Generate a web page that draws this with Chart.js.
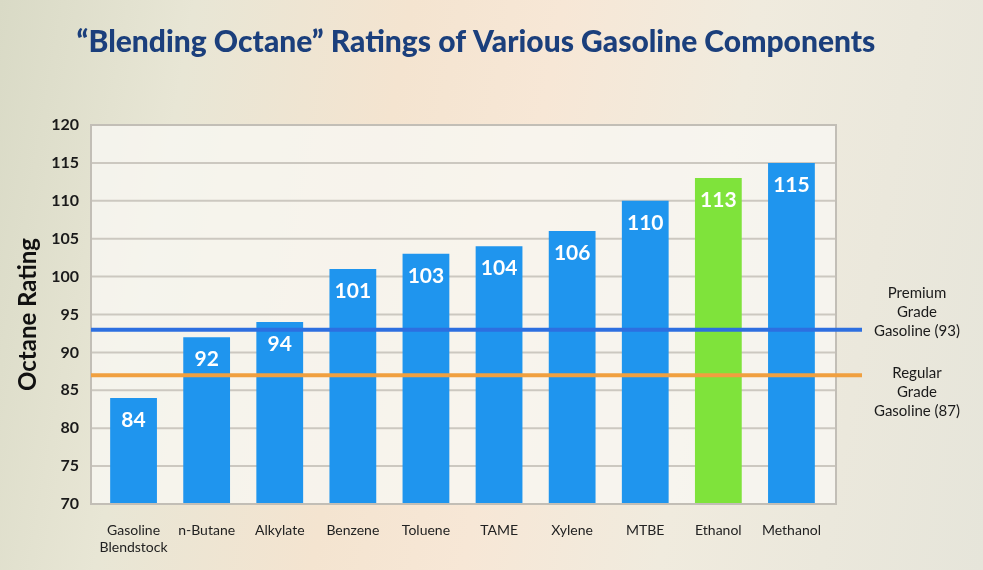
<!DOCTYPE html>
<html lang="en">
<head>
    <meta charset="UTF-8">
    <title>Blending Octane Ratings</title>
    <style>
        html, body { margin: 0; padding: 0; }
        body {
            width: 983px; height: 570px; overflow: hidden;
            background: linear-gradient(100deg, #d9dac6 0%, #e8e6d5 18%, #f4e4d0 38%, #f7e7d6 52%, #f0ebde 70%, #e6e5da 100%);
        }
        #wrap { position: relative; width: 983px; height: 570px; }
    </style>
    <script src="https://cdn.jsdelivr.net/npm/chart.js@4"></script>
</head>
<body>
<div id="wrap"><canvas id="octaneChart" width="983" height="570"></canvas></div>
<script>
    const categories = [["Gasoline", "Blendstock"], "n-Butane", "Alkylate", "Benzene", "Toluene", "TAME", "Xylene", "MTBE", "Ethanol", "Methanol"];
    const octaneValues = [84, 92, 94, 101, 103, 104, 106, 110, 113, 115];
    const highlightIndex = 8; // Ethanol
    const yTicks = { min: 70, max: 120, step: 5 };
    const premiumLevel = 93;
    const regularLevel = 87;
    const premiumLabel = ["Premium", "Grade", "Gasoline (93)"];
    const regularLabel = ["Regular", "Grade", "Gasoline (87)"];
    const titleText = "\u201CBlending Octane\u201D Ratings of Various Gasoline Components";

    const FONT = "Lato, 'Noto Sans', sans-serif";
    const barColors = octaneValues.map((v, i) => i === highlightIndex ? "#7fe33b" : "#1f95ee");
    // the frame is a bit wider than the band holding the bars
    const FRAME_L = 6, FRAME_R = 8;

    // plot background, grid and frame
    const plotBox = {
        id: "plotBox",
        beforeDatasetsDraw(chart) {
            const { ctx, chartArea: a, scales } = chart;
            const l = a.left - FRAME_L, r = a.right + FRAME_R;
            ctx.save();
            ctx.fillStyle = "rgba(248,246,242,0.82)";
            ctx.fillRect(l, a.top, r - l, a.bottom - a.top);
            ctx.strokeStyle = "#ccc8c0";
            ctx.lineWidth = 2;
            scales.y.ticks.forEach(t => {
                const py = scales.y.getPixelForValue(t.value);
                ctx.beginPath();
                ctx.moveTo(l, py);
                ctx.lineTo(r, py);
                ctx.stroke();
            });
            ctx.restore();
        },
        afterDatasetsDraw(chart) {
            const { ctx, chartArea: a } = chart;
            const l = a.left - FRAME_L, r = a.right + FRAME_R;
            ctx.save();
            ctx.strokeStyle = "#c2beb6";
            ctx.lineWidth = 2;
            ctx.strokeRect(l, a.top, r - l, a.bottom - a.top);
            ctx.restore();
        }
    };

    // reference lines and side notes
    const refLines = {
        id: "refLines",
        afterDatasetsDraw(chart) {
            const { ctx, chartArea: a, scales } = chart;
            const y = scales.y;
            const draw = (val, color) => {
                const py = y.getPixelForValue(val);
                ctx.strokeStyle = color;
                ctx.lineWidth = 4;
                ctx.beginPath();
                ctx.moveTo(a.left - FRAME_L, py);
                ctx.lineTo(a.right + 34, py);
                ctx.stroke();
                return py;
            };
            ctx.save();
            const pY = draw(premiumLevel, "#2d6fe0");
            const rY = draw(regularLevel, "#f0a040");
            ctx.fillStyle = "#1a1a1a";
            ctx.font = "15px " + FONT;
            ctx.textAlign = "center";
            ctx.textBaseline = "middle";
            const cx = a.right + 89;
            premiumLabel.forEach((t, i) => ctx.fillText(t, cx, pY + 1 - (premiumLabel.length - 1 - i) * 19));
            regularLabel.forEach((t, i) => ctx.fillText(t, cx, rY - 2 + i * 19));
            ctx.restore();
        }
    };

    // value labels inside bars
    const barValues = {
        id: "barValues",
        afterDatasetsDraw(chart) {
            const { ctx } = chart;
            const meta = chart.getDatasetMeta(0);
            ctx.save();
            ctx.fillStyle = "#ffffff";
            ctx.font = "bold 21px " + FONT;
            ctx.textAlign = "center";
            ctx.textBaseline = "middle";
            meta.data.forEach((bar, i) => {
                ctx.fillText(String(octaneValues[i]), bar.x, bar.y + 22);
            });
            ctx.restore();
        }
    };

    // slide title
    const slideTitle = {
        id: "slideTitle",
        afterDraw(chart) {
            const { ctx } = chart;
            ctx.save();
            ctx.fillStyle = "#1b3f7c";
            ctx.font = "900 30px " + FONT;
            ctx.textAlign = "center";
            ctx.textBaseline = "middle";
            ctx.fillText(titleText, 476, 42);
            ctx.restore();
        }
    };

    new Chart(document.getElementById("octaneChart"), {
        type: "bar",
        data: {
            labels: categories,
            datasets: [{
                data: octaneValues,
                backgroundColor: barColors,
                borderWidth: 0,
                categoryPercentage: 1,
                barPercentage: 0.64
            }]
        },
        options: {
            responsive: false,
            animation: false,
            layout: { padding: { top: 125, right: 155, left: 0, bottom: 0 } },
            plugins: {
                legend: { display: false },
                tooltip: { enabled: false }
            },
            scales: {
                x: {
                    grid: { display: false },
                    border: { display: false },
                    ticks: { color: "#222", font: { family: FONT, size: 14 }, padding: 10, maxRotation: 0, autoSkip: false },
                    afterFit(scale) { scale.height = 66; }
                },
                y: {
                    min: yTicks.min,
                    max: yTicks.max,
                    ticks: { stepSize: yTicks.step, color: "#1a1a1a", font: { family: FONT, size: 16, weight: "bold" }, padding: 10 },
                    grid: { display: false },
                    border: { display: false },
                    title: { display: true, text: "Octane Rating", color: "#111", font: { family: FONT, size: 24, weight: "bold" }, padding: { top: 14, bottom: 0 } },
                    afterFit(scale) { scale.width = 97; }
                }
            }
        },
        plugins: [plotBox, refLines, barValues, slideTitle]
    });
</script>
</body>
</html>
